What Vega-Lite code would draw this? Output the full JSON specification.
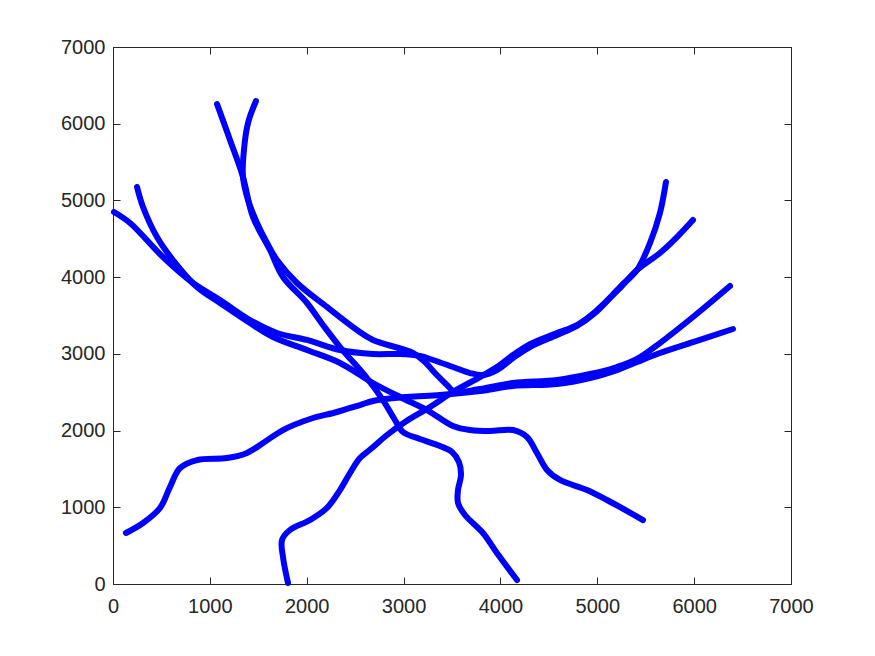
{
  "$schema": "https://vega.github.io/schema/vega-lite/v6.json",
  "width": 678,
  "height": 537,
  "autosize": "none",
  "padding": {"left": 113, "top": 47, "right": 84, "bottom": 72},
  "background": "white",
  "config": {
    "view": {"stroke": "#262626", "strokeWidth": 1},
    "axis": {
      "labelFont": "Liberation Sans",
      "labelFontSize": 20,
      "labelColor": "#262626",
      "domainColor": "#262626",
      "tickColor": "#262626",
      "grid": false,
      "tickWidth": 1,
      "domainWidth": 1,
      "labelFlush": false,
      "labelOverlap": false,
      "format": "d",
      "title": null
    }
  },
  "data": {"values": [
    {"c":"A","i":0,"x":1074,"y":6257},{"c":"A","i":1,"x":1208,"y":5788},{"c":"A","i":2,"x":1342,"y":5305},{"c":"A","i":3,"x":1445,"y":4784},{"c":"A","i":4,"x":1621,"y":4354},{"c":"A","i":5,"x":1755,"y":4002},{"c":"A","i":6,"x":2003,"y":3663},{"c":"A","i":7,"x":2168,"y":3376},{"c":"A","i":8,"x":2344,"y":3089},{"c":"A","i":9,"x":2622,"y":2685},{"c":"A","i":10,"x":2787,"y":2398},{"c":"A","i":11,"x":2911,"y":2138},{"c":"A","i":12,"x":2994,"y":1981},{"c":"A","i":13,"x":3169,"y":1890},{"c":"A","i":14,"x":3376,"y":1799},{"c":"A","i":15,"x":3500,"y":1721},{"c":"A","i":16,"x":3572,"y":1590},{"c":"A","i":17,"x":3593,"y":1421},{"c":"A","i":18,"x":3562,"y":1225},{"c":"A","i":19,"x":3562,"y":1056},{"c":"A","i":20,"x":3634,"y":899},{"c":"A","i":21,"x":3820,"y":665},{"c":"A","i":22,"x":3964,"y":404},{"c":"A","i":23,"x":4171,"y":52},
    {"c":"B","i":0,"x":1476,"y":6296},{"c":"B","i":1,"x":1394,"y":6009},{"c":"B","i":2,"x":1352,"y":5657},{"c":"B","i":3,"x":1342,"y":5305},{"c":"B","i":4,"x":1394,"y":5005},{"c":"B","i":5,"x":1487,"y":4706},{"c":"B","i":6,"x":1590,"y":4445},{"c":"B","i":7,"x":1693,"y":4223},{"c":"B","i":8,"x":1900,"y":3924},{"c":"B","i":9,"x":2209,"y":3611},{"c":"B","i":10,"x":2519,"y":3311},{"c":"B","i":11,"x":2684,"y":3181},{"c":"B","i":12,"x":3097,"y":3011},{"c":"B","i":13,"x":3221,"y":2894},{"c":"B","i":14,"x":3324,"y":2750},{"c":"B","i":15,"x":3448,"y":2594},{"c":"B","i":16,"x":3531,"y":2503},{"c":"B","i":17,"x":3789,"y":2542},{"c":"B","i":18,"x":4130,"y":2620},{"c":"B","i":19,"x":4584,"y":2659},{"c":"B","i":20,"x":4925,"y":2737},{"c":"B","i":21,"x":5203,"y":2829},{"c":"B","i":22,"x":5410,"y":2933},{"c":"B","i":23,"x":5647,"y":3141},{"c":"B","i":24,"x":5988,"y":3480},{"c":"B","i":25,"x":6370,"y":3884},
    {"c":"C","i":0,"x":248,"y":5175},{"c":"C","i":1,"x":310,"y":4914},{"c":"C","i":2,"x":454,"y":4523},{"c":"C","i":3,"x":619,"y":4223},{"c":"C","i":4,"x":867,"y":3871},{"c":"C","i":5,"x":1105,"y":3663},{"c":"C","i":6,"x":1414,"y":3402},{"c":"C","i":7,"x":1652,"y":3220},{"c":"C","i":8,"x":2003,"y":3050},{"c":"C","i":9,"x":2344,"y":2881},{"c":"C","i":10,"x":2684,"y":2620},{"c":"C","i":11,"x":2963,"y":2438},{"c":"C","i":12,"x":3242,"y":2268},{"c":"C","i":13,"x":3510,"y":2060},{"c":"C","i":14,"x":3686,"y":2007},{"c":"C","i":15,"x":3892,"y":1994},{"c":"C","i":16,"x":4130,"y":2007},{"c":"C","i":17,"x":4274,"y":1916},{"c":"C","i":18,"x":4377,"y":1708},{"c":"C","i":19,"x":4481,"y":1486},{"c":"C","i":20,"x":4615,"y":1356},{"c":"C","i":21,"x":4894,"y":1225},{"c":"C","i":22,"x":5100,"y":1095},{"c":"C","i":23,"x":5472,"y":834},
    {"c":"D","i":0,"x":10,"y":4849},{"c":"D","i":1,"x":176,"y":4706},{"c":"D","i":2,"x":516,"y":4262},{"c":"D","i":3,"x":826,"y":3924},{"c":"D","i":4,"x":1105,"y":3702},{"c":"D","i":5,"x":1414,"y":3441},{"c":"D","i":6,"x":1693,"y":3272},{"c":"D","i":7,"x":2003,"y":3181},{"c":"D","i":8,"x":2344,"y":3050},{"c":"D","i":9,"x":2684,"y":2998},{"c":"D","i":10,"x":2963,"y":2998},{"c":"D","i":11,"x":3169,"y":2972},{"c":"D","i":12,"x":3304,"y":2920},{"c":"D","i":13,"x":3510,"y":2829},{"c":"D","i":14,"x":3686,"y":2750},{"c":"D","i":15,"x":3820,"y":2724},{"c":"D","i":16,"x":3964,"y":2789},{"c":"D","i":17,"x":4130,"y":2946},{"c":"D","i":18,"x":4305,"y":3089},{"c":"D","i":19,"x":4584,"y":3246},{"c":"D","i":20,"x":4790,"y":3363},{"c":"D","i":21,"x":4976,"y":3532},{"c":"D","i":22,"x":5234,"y":3871},{"c":"D","i":23,"x":5410,"y":4093},{"c":"D","i":24,"x":5544,"y":4445},{"c":"D","i":25,"x":5647,"y":4836},{"c":"D","i":26,"x":5709,"y":5240},
    {"c":"E","i":0,"x":134,"y":665},{"c":"E","i":1,"x":310,"y":795},{"c":"E","i":2,"x":485,"y":991},{"c":"E","i":3,"x":588,"y":1264},{"c":"E","i":4,"x":692,"y":1512},{"c":"E","i":5,"x":867,"y":1616},{"c":"E","i":6,"x":1177,"y":1642},{"c":"E","i":7,"x":1383,"y":1708},{"c":"E","i":8,"x":1549,"y":1838},{"c":"E","i":9,"x":1755,"y":2007},{"c":"E","i":10,"x":2034,"y":2151},{"c":"E","i":11,"x":2313,"y":2242},{"c":"E","i":12,"x":2550,"y":2333},{"c":"E","i":13,"x":2684,"y":2385},{"c":"E","i":14,"x":3035,"y":2438},{"c":"E","i":15,"x":3376,"y":2464},{"c":"E","i":16,"x":3789,"y":2516},{"c":"E","i":17,"x":4130,"y":2581},{"c":"E","i":18,"x":4584,"y":2607},{"c":"E","i":19,"x":4925,"y":2685},{"c":"E","i":20,"x":5203,"y":2789},{"c":"E","i":21,"x":5410,"y":2894},{"c":"E","i":22,"x":5647,"y":3011},{"c":"E","i":23,"x":5988,"y":3154},{"c":"E","i":24,"x":6401,"y":3324},
    {"c":"F","i":0,"x":1807,"y":13},{"c":"F","i":1,"x":1755,"y":352},{"c":"F","i":2,"x":1745,"y":574},{"c":"F","i":3,"x":1827,"y":704},{"c":"F","i":4,"x":2034,"y":834},{"c":"F","i":5,"x":2209,"y":991},{"c":"F","i":6,"x":2344,"y":1225},{"c":"F","i":7,"x":2447,"y":1447},{"c":"F","i":8,"x":2550,"y":1642},{"c":"F","i":9,"x":2674,"y":1773},{"c":"F","i":10,"x":2829,"y":1942},{"c":"F","i":11,"x":3015,"y":2112},{"c":"F","i":12,"x":3273,"y":2307},{"c":"F","i":13,"x":3510,"y":2503},{"c":"F","i":14,"x":3789,"y":2698},{"c":"F","i":15,"x":3964,"y":2829},{"c":"F","i":16,"x":4130,"y":2985},{"c":"F","i":17,"x":4305,"y":3128},{"c":"F","i":18,"x":4584,"y":3272},{"c":"F","i":19,"x":4790,"y":3376},{"c":"F","i":20,"x":4976,"y":3546},{"c":"F","i":21,"x":5234,"y":3858},{"c":"F","i":22,"x":5410,"y":4093},{"c":"F","i":23,"x":5647,"y":4315},{"c":"F","i":24,"x":5823,"y":4523},{"c":"F","i":25,"x":5988,"y":4745}
  ]},
  "layer": [
    {
      "mark": {"type": "line", "color": "#0000ff", "strokeWidth": 6, "strokeCap": "round", "strokeJoin": "round", "interpolate": "catmull-rom"},
      "encoding": {
        "x": {"field": "x", "type": "quantitative", "scale": {"domain": [0, 7000], "nice": false}, "axis": {"orient": "bottom", "values": [0,1000,2000,3000,4000,5000,6000,7000], "ticks": false, "tickSize": 0, "labelPadding": 12}},
        "y": {"field": "y", "type": "quantitative", "scale": {"domain": [0, 7000], "nice": false}, "axis": {"orient": "left", "values": [0,1000,2000,3000,4000,5000,6000,7000], "ticks": false, "tickSize": 0, "labelPadding": 8}},
        "detail": {"field": "c"},
        "order": {"field": "i", "type": "quantitative"}
      }
    },
    {
      "mark": {"type": "line", "opacity": 0},
      "encoding": {
        "x": {"field": "x", "type": "quantitative", "scale": {"domain": [0, 7000], "nice": false}, "axis": {"orient": "top", "values": [0,1000,2000,3000,4000,5000,6000,7000], "labels": false, "domain": false, "tickSize": 7, "offset": -537}},
        "y": {"field": "y", "type": "quantitative", "scale": {"domain": [0, 7000], "nice": false}, "axis": {"orient": "right", "values": [0,1000,2000,3000,4000,5000,6000,7000], "labels": false, "domain": false, "tickSize": 7, "offset": -678}},
        "detail": {"field": "c"},
        "order": {"field": "i", "type": "quantitative"}
      }
    },
    {
      "mark": {"type": "line", "opacity": 0},
      "encoding": {
        "x": {"field": "x", "type": "quantitative", "scale": {"domain": [0, 7000], "nice": false}, "axis": {"orient": "bottom", "values": [0,1000,2000,3000,4000,5000,6000,7000], "labels": false, "domain": false, "tickSize": 7, "offset": -537}},
        "y": {"field": "y", "type": "quantitative", "scale": {"domain": [0, 7000], "nice": false}, "axis": {"orient": "left", "values": [0,1000,2000,3000,4000,5000,6000,7000], "labels": false, "domain": false, "tickSize": 7, "offset": -678}},
        "detail": {"field": "c"},
        "order": {"field": "i", "type": "quantitative"}
      }
    }
  ],
  "resolve": {"axis": {"x": "independent", "y": "independent"}}
}
